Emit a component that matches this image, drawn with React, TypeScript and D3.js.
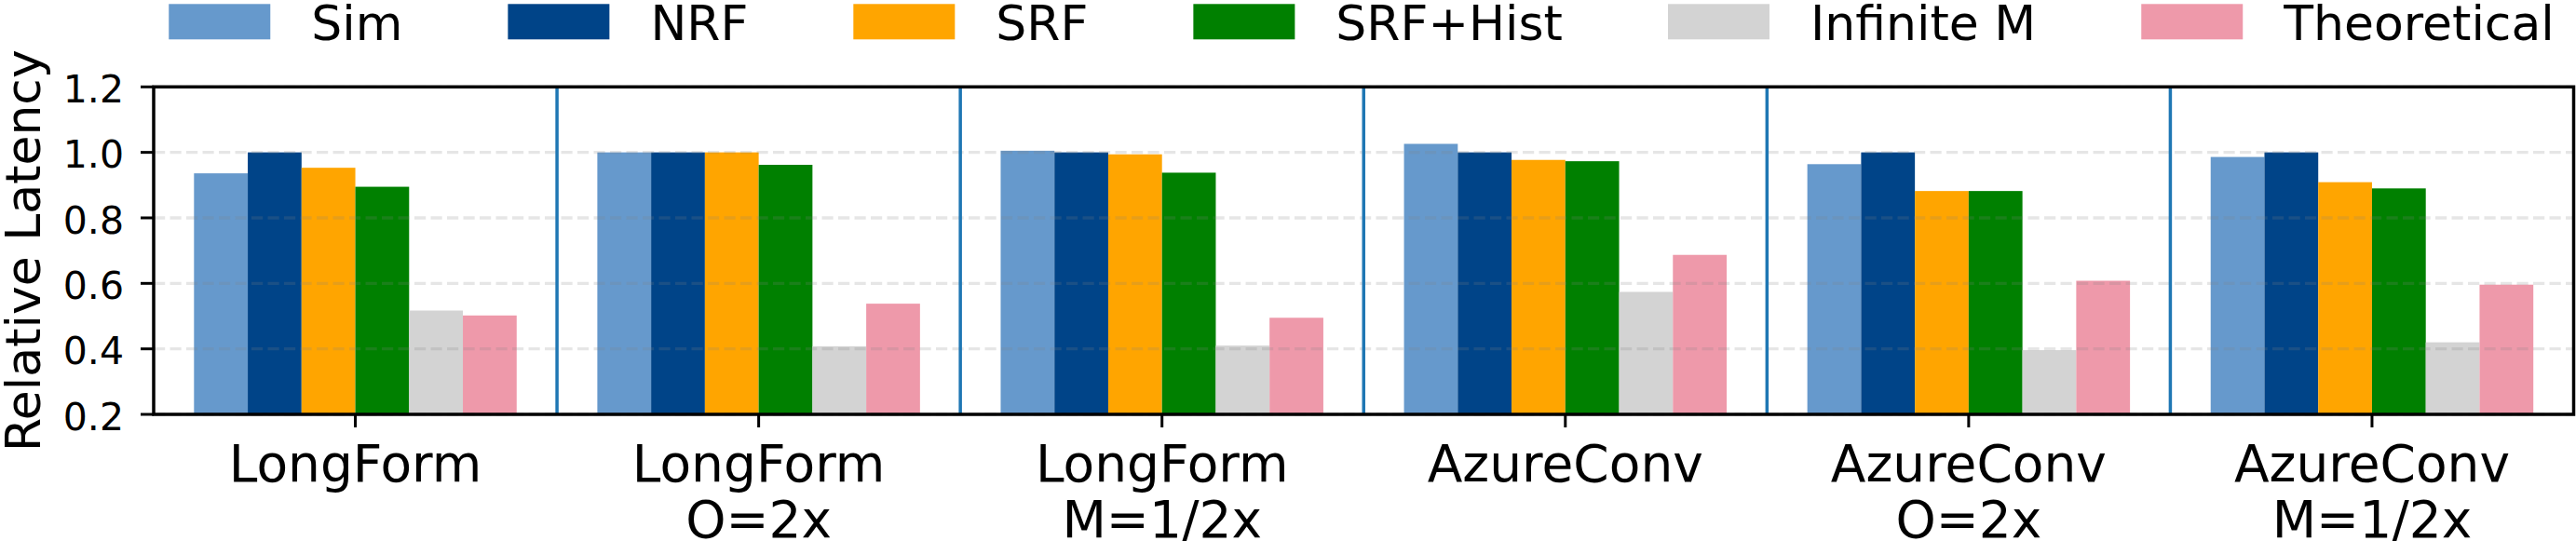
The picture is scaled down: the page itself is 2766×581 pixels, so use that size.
import React from 'react';
import * as d3 from 'd3';

// groups on the x axis (second line after \n)
const categories = [
  'LongForm',
  'LongForm\nO=2x',
  'LongForm\nM=1/2x',
  'AzureConv',
  'AzureConv\nO=2x',
  'AzureConv\nM=1/2x',
];

const seriesNames = ['Sim', 'NRF', 'SRF', 'SRF+Hist', 'Infinite M', 'Theoretical'];
const seriesColors = ['#6699cc', '#004488', '#ffa500', '#008000', '#d3d3d3', '#ee99aa'];

// relative latency, normalised to NRF
const sim = [0.936, 1.0, 1.005, 1.026, 0.964, 0.986];
const nrf = [1.0, 1.0, 1.0, 1.0, 1.0, 1.0];
const srf = [0.953, 1.0, 0.994, 0.977, 0.882, 0.909];
const srfHist = [0.895, 0.962, 0.938, 0.973, 0.882, 0.89];
const infiniteM = [0.517, 0.408, 0.41, 0.574, 0.396, 0.42];
const theoretical = [0.502, 0.538, 0.495, 0.687, 0.608, 0.596];

const yTicks = [0.2, 0.4, 0.6, 0.8, 1.0, 1.2];

const W = 2766;
const H = 581;
const margin = { top: 93.3, right: 2.5, bottom: 136, left: 165 };
const FONT = "'DejaVu Sans', sans-serif";

const measure = (() => {
  const ctx = document.createElement('canvas').getContext('2d');
  return (s: string, size: number) => {
    if (!ctx) return s.length * size * 0.6;
    ctx.font = `${size}px 'DejaVu Sans'`;
    return ctx.measureText(s).width;
  };
})();

export default function App() {
  const values = [sim, nrf, srf, srfHist, infiniteM, theoretical];
  const rows = categories.map((c, gi) => ({
    category: c,
    bars: seriesNames.map((s, si) => ({ series: s, value: values[si][gi] })),
  }));

  const x = d3.scaleBand().domain(categories).range([margin.left, W - margin.right]);
  const inner = d3
    .scaleBand()
    .domain(seriesNames)
    .range([x.bandwidth() * 0.1, x.bandwidth() * 0.9]);
  const y = d3.scaleLinear().domain([0.2, 1.2]).range([H - margin.bottom, margin.top]);
  const color = d3.scaleOrdinal<string, string>().domain(seriesNames).range(seriesColors);

  const x0 = margin.left;
  const x1 = W - margin.right;
  const yBase = y(0.2);
  const yTop = y(1.2);

  // legend laid out in one row, centred over the axes
  const legSize = 52;
  const patchW = 109;
  const patchH = 38;
  const textGap = 44;
  const colGap = 113;
  const widths = seriesNames.map((s) => patchW + textGap + measure(s, legSize));
  const total = d3.sum(widths) + colGap * (seriesNames.length - 1);
  let lx = 1462 - total / 2;
  const legend = seriesNames.map((s, i) => {
    const item = { name: s, x: lx };
    lx += widths[i] + colGap;
    return item;
  });

  return (
    <svg
      width={W}
      height={H}
      style={{ position: 'absolute', left: 0, top: 0, background: '#fff' }}
      fontFamily={FONT}
    >
      <rect width={W} height={H} fill="#fff" />

      {/* bars */}
      {rows.map((r) => (
        <g key={r.category} transform={`translate(${x(r.category)},0)`}>
          {r.bars.map((b) => (
            <rect
              key={b.series}
              x={inner(b.series)}
              y={y(b.value)}
              width={inner.bandwidth()}
              height={yBase - y(b.value)}
              fill={color(b.series)}
            />
          ))}
        </g>
      ))}

      {/* dashed grid, drawn over the bars */}
      {yTicks.map((t) => (
        <line
          key={t}
          x1={x0}
          x2={x1}
          y1={y(t)}
          y2={y(t)}
          stroke="#808080"
          strokeOpacity={0.2}
          strokeWidth={3.3}
          strokeDasharray="12.2,5.3"
        />
      ))}

      {/* group separators */}
      {categories.slice(1).map((c) => (
        <line
          key={c}
          x1={x(c)}
          x2={x(c)}
          y1={yTop}
          y2={yBase}
          stroke="#1f77b4"
          strokeWidth={3.5}
        />
      ))}

      {/* frame */}
      <rect
        x={x0}
        y={yTop}
        width={x1 - x0}
        height={yBase - yTop}
        fill="none"
        stroke="#000"
        strokeWidth={3.5}
      />

      {/* y axis */}
      {yTicks.map((t) => (
        <g key={t}>
          <line x1={x0 - 14} x2={x0} y1={y(t)} y2={y(t)} stroke="#000" strokeWidth={3} />
          <text x={133} y={y(t)} dy="0.41em" textAnchor="end" fontSize={41}>
            {d3.format('.1f')(t)}
          </text>
        </g>
      ))}
      <text
        transform={`translate(43,${(yTop + yBase) / 2}) rotate(-90)`}
        textAnchor="middle"
        fontSize={52}
      >
        Relative Latency
      </text>

      {/* x axis */}
      {categories.map((c) => {
        const cx = (x(c) ?? 0) + x.bandwidth() / 2;
        return (
          <g key={c}>
            <line x1={cx} x2={cx} y1={yBase} y2={yBase + 14} stroke="#000" strokeWidth={3} />
            {c.split('\n').map((line, li) => (
              <text key={li} x={cx} y={516.7 + li * 60} textAnchor="middle" fontSize={55}>
                {line}
              </text>
            ))}
          </g>
        );
      })}

      {/* legend */}
      {legend.map((d) => (
        <g key={d.name}>
          <rect x={d.x} y={4.3} width={patchW} height={patchH} fill={color(d.name)} />
          <text x={d.x + patchW + textGap} y={43} fontSize={legSize}>
            {d.name}
          </text>
        </g>
      ))}
    </svg>
  );
}
